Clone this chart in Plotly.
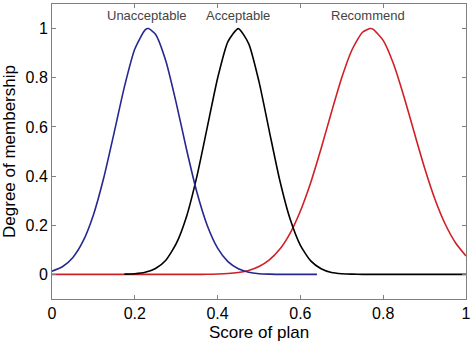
import plotly.graph_objects as go

# Membership functions of the plan score (sampled values)
x_unacc = [0.0, 0.025, 0.05, 0.075, 0.1, 0.125, 0.15, 0.175, 0.2, 0.225, 0.233, 0.25, 0.275,
           0.3, 0.325, 0.35, 0.375, 0.4, 0.425, 0.45, 0.475, 0.5, 0.525, 0.55, 0.575, 0.6, 0.64]
y_unacc = [0.013, 0.031, 0.068, 0.135, 0.242, 0.393, 0.576, 0.764, 0.917, 0.995, 1.0, 0.977, 0.868,
           0.698, 0.508, 0.334, 0.199, 0.107, 0.052, 0.023, 0.009, 0.003, 0.001, 0.0003, 0.0001, 0.0, 0.0]

x_acc = [0.175, 0.2, 0.225, 0.25, 0.275, 0.3, 0.325, 0.35, 0.375, 0.4, 0.425, 0.45, 0.475,
         0.5, 0.525, 0.55, 0.575, 0.6, 0.625, 0.65, 0.675, 0.7, 0.725, 0.75, 0.8, 0.9, 1.0]
y_acc = [0.001, 0.003, 0.009, 0.024, 0.058, 0.125, 0.236, 0.399, 0.598, 0.798, 0.947, 1.0, 0.939,
         0.784, 0.582, 0.384, 0.226, 0.118, 0.055, 0.023, 0.008, 0.003, 0.001, 0.0002, 0.0, 0.0, 0.0]

x_rec = [0.0, 0.1, 0.2, 0.3, 0.35, 0.375, 0.4, 0.425, 0.45, 0.475, 0.5, 0.525, 0.55, 0.575,
         0.6, 0.625, 0.65, 0.675, 0.7, 0.725, 0.75, 0.768, 0.775, 0.8, 0.825, 0.85, 0.875,
         0.9, 0.925, 0.95, 0.975, 1.0]
y_rec = [0.0, 0.0, 0.0, 0.0, 0.0002, 0.0006, 0.0015, 0.0035, 0.008, 0.016, 0.032, 0.059, 0.102, 0.167,
         0.258, 0.374, 0.512, 0.660, 0.801, 0.915, 0.985, 1.0, 0.998, 0.952, 0.856, 0.724, 0.577,
         0.433, 0.306, 0.204, 0.128, 0.075]

labels = ["Unacceptable", "Acceptable", "Recommend"]
label_x = [0.23, 0.449, 0.764]
label_y = 1.053

x_ticks = [0, 0.2, 0.4, 0.6, 0.8, 1]
x_tick_text = ["0", "0.2", "0.4", "0.6", "0.8", "1"]
y_ticks = [0, 0.2, 0.4, 0.6, 0.8, 1]
y_tick_text = ["0", "0.2", "0.4", "0.6", "0.8", "1"]

FONT = "Liberation Sans, Arial, Helvetica, sans-serif"

fig = go.Figure()
fig.add_trace(go.Scatter(x=x_rec, y=y_rec, mode="lines", line=dict(color="#d11f26", width=1.6, shape="spline", smoothing=0.6)))
fig.add_trace(go.Scatter(x=x_acc, y=y_acc, mode="lines", line=dict(color="#000000", width=1.6, shape="spline", smoothing=0.6)))
fig.add_trace(go.Scatter(x=x_unacc, y=y_unacc, mode="lines", line=dict(color="#242890", width=1.6, shape="spline", smoothing=0.6)))

for txt, lx in zip(labels, label_x):
    fig.add_annotation(x=lx, y=label_y, xref="x", yref="y", text=txt, showarrow=False,
                       font=dict(family=FONT, size=13, color="#444444"))

axis_common = dict(showline=True, linecolor="#808080", linewidth=1, mirror="ticks",
                   ticks="inside", ticklen=4, tickcolor="#808080", showgrid=False, zeroline=False,
                   tickfont=dict(family=FONT, size=16, color="#000000"))

fig.update_layout(
    width=474, height=342,
    margin=dict(l=52, r=6, t=3, b=43),
    paper_bgcolor="white", plot_bgcolor="white",
    showlegend=False,
    xaxis=dict(range=[0, 1], tickvals=x_ticks, ticktext=x_tick_text,
               title=dict(text="Score of plan", font=dict(family=FONT, size=17, color="#000000"), standoff=5),
               **axis_common),
    yaxis=dict(range=[-0.1, 1.1], tickvals=y_ticks, ticktext=y_tick_text,
               title=dict(text="Degree of membership", font=dict(family=FONT, size=17, color="#000000"), standoff=6),
               **axis_common),
)

fig.write_html("out.html")
